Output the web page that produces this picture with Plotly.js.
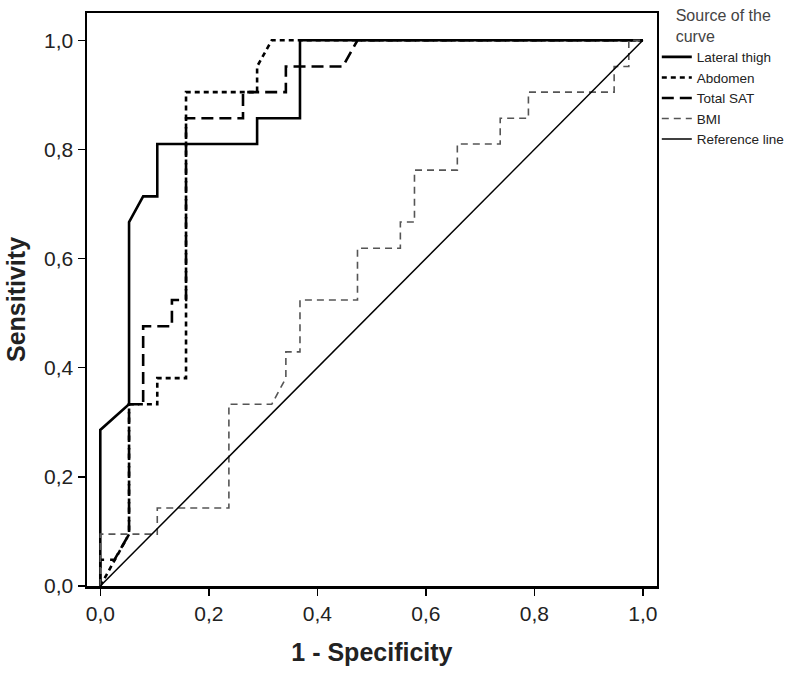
<!DOCTYPE html>
<html>
<head>
<meta charset="utf-8">
<script src="https://cdn.plot.ly/plotly-3.0.1.min.js"></script>
<style>html,body{margin:0;padding:0;background:#fff;}#chart{width:800px;height:675px;}</style>
</head>
<body>
<div id="chart"></div>
<script>
// ROC curve data (1 - specificity, sensitivity)
const latX = [0, 0, 0.053, 0.053, 0.079, 0.105, 0.105, 0.289, 0.289, 0.368, 0.368, 1];
const latY = [0, 0.286, 0.333, 0.667, 0.714, 0.714, 0.810, 0.810, 0.857, 0.857, 1, 1];

const absX = [0, 0.026, 0.053, 0.053, 0.105, 0.105, 0.158, 0.158, 0.289, 0.289, 0.316, 1];
const absY = [0, 0.048, 0.095, 0.333, 0.333, 0.381, 0.381, 0.905, 0.905, 0.952, 1, 1];

const satX = [0, 0, 0.026, 0.053, 0.053, 0.079, 0.079, 0.132, 0.132, 0.158, 0.158, 0.263, 0.263, 0.342, 0.342, 0.447, 0.474, 1];
const satY = [0, 0.048, 0.048, 0.095, 0.333, 0.333, 0.476, 0.476, 0.524, 0.524, 0.857, 0.857, 0.905, 0.905, 0.952, 0.952, 1, 1];

const bmiX = [0, 0, 0.105, 0.105, 0.237, 0.237, 0.316, 0.342, 0.342, 0.368, 0.368, 0.474, 0.474, 0.553, 0.553, 0.579, 0.579, 0.658, 0.658, 0.737, 0.737, 0.789, 0.789, 0.947, 0.947, 0.974, 0.974, 1];
const bmiY = [0, 0.095, 0.095, 0.143, 0.143, 0.333, 0.333, 0.381, 0.429, 0.429, 0.524, 0.524, 0.619, 0.619, 0.667, 0.667, 0.762, 0.762, 0.810, 0.810, 0.857, 0.857, 0.905, 0.905, 0.952, 0.952, 1, 1];

const refX = [0, 1];
const refY = [0, 1];

const names = ['Lateral thigh', 'Abdomen', 'Total SAT', 'BMI', 'Reference line'];
const tickVals = [0, 0.2, 0.4, 0.6, 0.8, 1.0];

const traces = [
  {x: latX, y: latY, name: names[0], mode: 'lines', line: {color: '#000', width: 2.6}},
  {x: absX, y: absY, name: names[1], mode: 'lines', line: {color: '#000', width: 2.6, dash: '5px,4px'}},
  {x: satX, y: satY, name: names[2], mode: 'lines', line: {color: '#000', width: 2.6, dash: '12px,6px'}},
  {x: bmiX, y: bmiY, name: names[3], mode: 'lines', line: {color: '#555', width: 1.6, dash: '7px,5px'}},
  {x: refX, y: refY, name: names[4], mode: 'lines', line: {color: '#000', width: 1.5}}
];

const FONT = 'Liberation Sans, Arial, sans-serif';

const axisCommon = {
  showgrid: false, zeroline: false,
  showline: true, linecolor: '#000', linewidth: 2.5, mirror: true,
  ticks: 'outside', ticklen: 7, tickwidth: 1.5, tickcolor: '#000',
  tickvals: tickVals, tickformat: '.1f',
  tickfont: {family: FONT, size: 21, color: '#222'}
};

const layout = {
  width: 800, height: 675,
  margin: {l: 87, r: 139, t: 13, b: 89},
  paper_bgcolor: '#fff', plot_bgcolor: '#fff',
  separators: ',.',
  showlegend: true,
  xaxis: Object.assign({}, axisCommon, {
    range: [-0.0245, 1.0256],
    title: {text: '<b>1 - Specificity</b>', standoff: 20,
      font: {family: FONT, size: 25, color: '#222'}}
  }),
  yaxis: Object.assign({}, axisCommon, {
    range: [0, 1.05],
    title: {text: '<b>Sensitivity</b>', standoff: 12,
      font: {family: FONT, size: 25, color: '#222'}}
  }),
  legend: {
    x: 0.821, xanchor: 'left', y: 1, yanchor: 'top',
    xref: 'container', yref: 'container',
    itemwidth: 30,
    bgcolor: 'rgba(0,0,0,0)',
    font: {family: FONT, size: 13.5, color: '#222'},
    title: {text: 'Source of the<br>curve', side: 'top center',
      font: {family: FONT, size: 16, color: '#444'}},
    tracegroupgap: 0
  }
};

Plotly.newPlot('chart', traces, layout, {displayModeBar: false, staticPlot: true});
</script>
</body>
</html>
